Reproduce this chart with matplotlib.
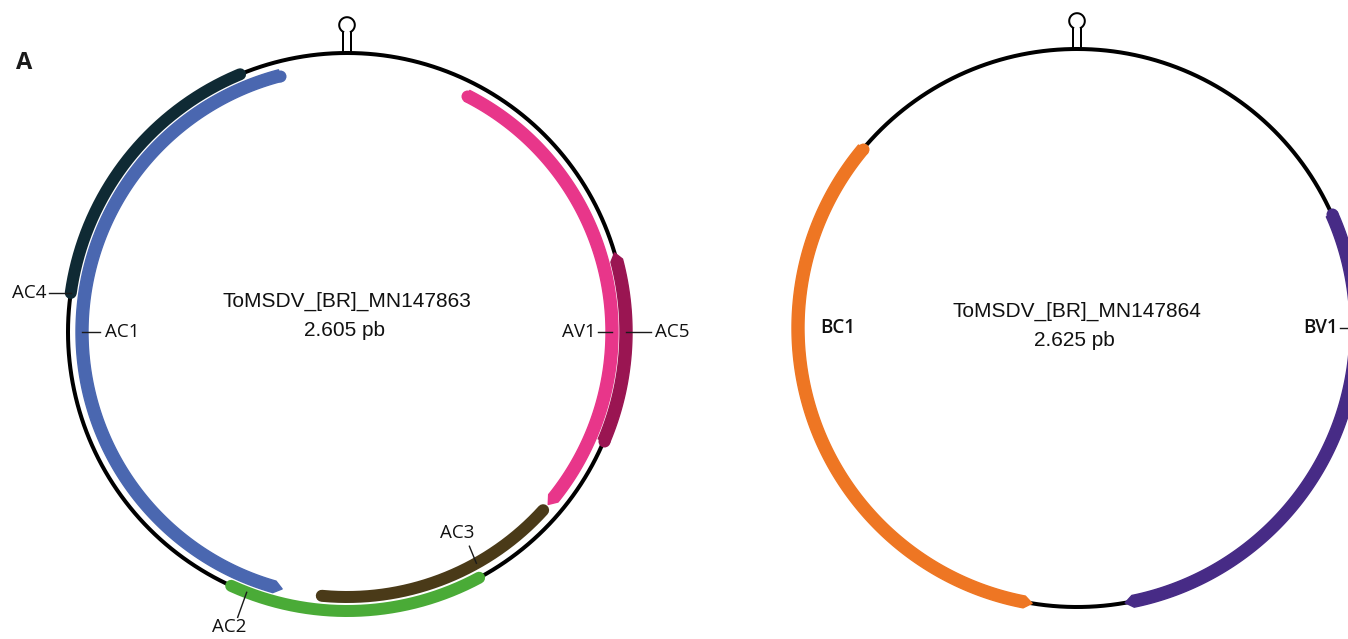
import numpy as np
import matplotlib.pyplot as plt
from matplotlib.patches import Polygon

W, H = 1348, 639
PX = 72 / 100  # points per pixel at dpi=100

# --- genome A (DNA-A) ---
a_title = "ToMSDV_[BR]_MN147863"
a_size = 2605
a_genes = ["AV1", "AC5", "AC3", "AC2", "AC1", "AC4"]
a_start = [195, 532, 957, 1098, 1405, 2012]
a_end = [945, 818, 1342, 1480, 2499, 2442]
a_strand = [1, -1, -1, -1, -1, -1]
a_arrow = [True, True, False, False, True, False]
a_track = ["inner", "outer", "inner", "outer", "inner", "outer"]
a_colors = ["#e8368a", "#9a1552", "#4a3a18", "#4aab37", "#4a67b0", "#0f2a34"]
a_label_at = [651, 651, 1091, 1455, 1954, 2012]

# --- genome B (DNA-B) ---
b_title = "ToMSDV_[BR]_MN147864"
b_size = 2625
b_genes = ["BV1", "BC1"]
b_start = [481, 1380]
b_end = [1240, 2260]
b_strand = [1, -1]
b_arrow = [True, True]
b_track = ["outer", "outer"]
b_colors = ["#472b86", "#ee7623"]
b_label_at = [656, 1969]

# leader line vector and text offset (pixels), text alignment, weight
label_style = {
    "AV1": ((-14, 0), (-2, 0), "right", "normal"),
    "AC5": ((25, 0), (4, 0), "left", "normal"),
    "AC3": ((-7, -17), (-12, -13), "center", "normal"),
    "AC2": ((-9, 25), (-8, 10), "center", "normal"),
    "AC1": ((18, 0), (5, 0), "left", "normal"),
    "AC4": ((-22, 0), (-2, 0), "right", "normal"),
    "BV1": ((-16, 0), (-2, 0), "right", "semibold"),
    "BC1": ((0, 0), (40, 0), "center", "semibold"),
}

R = 279
R_IN = 265
BAND = 12


def arc_xy(cx, cy, r, th):
    t = np.radians(th)
    return cx + r * np.sin(t), cy - r * np.cos(t)


def draw_gene(ax, cx, cy, r, a0, a1, strand, arrow, color):
    if not arrow:
        th = np.linspace(a0, a1, 300)
        x, y = arc_xy(cx, cy, r, th)
        ax.plot(x, y, color=color, lw=BAND * PX, solid_capstyle="round", zorder=3)
        return
    tip = np.degrees(8 / r)
    if strand > 0:
        tail, head, neck = a0, a1, a1 - tip
    else:
        tail, head, neck = a1, a0, a0 + tip
    th = np.linspace(tail, neck, 300)
    ox, oy = arc_xy(cx, cy, r + BAND / 2, th)
    ix, iy = arc_xy(cx, cy, r - BAND / 2, th[::-1])
    hx, hy = arc_xy(cx, cy, r, head)
    verts = np.column_stack([np.r_[ox, hx, ix], np.r_[oy, hy, iy]])
    ax.add_patch(Polygon(verts, closed=True, fc=color, ec=color, lw=1,
                         joinstyle="round", zorder=3))
    tx, ty = arc_xy(cx, cy, r, tail)
    ax.plot(tx, ty, "o", ms=BAND * PX, color=color, mec="none", zorder=3)


def hairpin(ax, cx, top):
    s, lr = 3.8, 7.8
    ly = top - 28
    alpha = np.degrees(np.arcsin(s / lr))
    phi = np.radians(np.linspace(alpha, 360 - alpha, 100))
    ax.plot(cx + lr * np.sin(phi), ly + lr * np.cos(phi), color="black", lw=2 * PX, zorder=4)
    jy = ly + lr * np.cos(np.radians(alpha))
    for sx in (-s, s):
        ax.plot([cx + sx, cx + sx], [jy, top], color="black", lw=2 * PX, zorder=4)


def draw_genome(ax, cx, cy, title, size, text_y, genes, start, end, strand,
                arrow, track, colors, label_at):
    th = np.linspace(0, 360, 721)
    x, y = arc_xy(cx, cy, R, th)
    ax.plot(x, y, color="black", lw=4 * PX, zorder=2)
    hairpin(ax, cx, cy - R)

    deg = 360 / size
    for g, s0, e0, sd, ar, tr, c, la in zip(genes, start, end, strand, arrow,
                                           track, colors, label_at):
        r = R if tr == "outer" else R_IN
        draw_gene(ax, cx, cy, r, s0 * deg, e0 * deg, sd, ar, c)
        (lx, ly), (ox, oy), ha, wt = label_style[g]
        px, py = arc_xy(cx, cy, r, la * deg)
        if lx or ly:
            ax.plot([px, px + lx], [py, py + ly], color="#1a1a1a", lw=1.4 * PX, zorder=5)
        ax.text(px + lx + ox, py + ly + oy, g, ha=ha, va="center",
                fontsize=13.5, family="Open Sans", fontweight=wt,
                color="#111111", zorder=6)

    ax.text(cx, text_y[0], title, ha="center", va="center", fontsize=15,
            family="Liberation Sans", color="#111111")
    ax.text(cx - 3, text_y[1], f"{size / 1000:.3f} pb", ha="center", va="center",
            fontsize=15, family="Liberation Sans", color="#111111")


fig = plt.figure(figsize=(W / 100, H / 100), dpi=100)
ax = fig.add_axes([0, 0, 1, 1])
ax.set_xlim(0, W)
ax.set_ylim(H, 0)
ax.set_aspect("equal")
ax.axis("off")

draw_genome(ax, 347, 332, a_title, a_size, (301, 331), a_genes, a_start, a_end,
            a_strand, a_arrow, a_track, a_colors, a_label_at)
draw_genome(ax, 1077, 328, b_title, b_size, (311, 341), b_genes, b_start, b_end,
            b_strand, b_arrow, b_track, b_colors, b_label_at)

ax.text(24, 63, "A", ha="center", va="center", fontsize=17, fontweight="bold",
        family="Open Sans", color="#1a1a1a")

fig.savefig("out.png", dpi=100, facecolor="white")
